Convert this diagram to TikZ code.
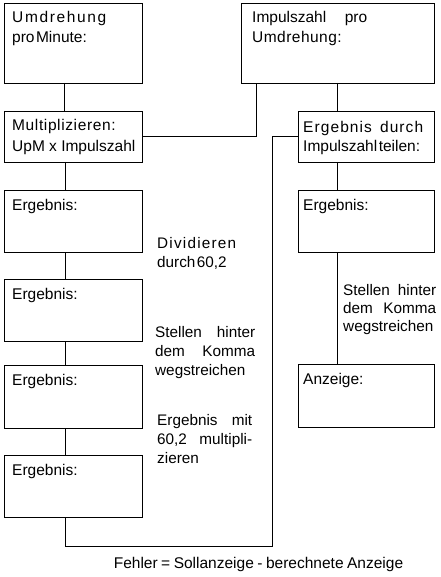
\documentclass[tikz,border=0pt]{standalone}
\usepackage{fontspec}
\setmainfont{Liberation Sans}
\usetikzlibrary{calc}
\begin{document}
\begin{tikzpicture}[x=1pt,y=-1pt,
  box/.style={draw, line width=0.8pt, rectangle, inner sep=0pt, outer sep=0pt, anchor=north west},
  conn/.style={line width=0.8pt},
  txt/.style={anchor=base west, inner sep=0pt, font=\fontsize{15.5}{18}\selectfont},
  note/.style={anchor=base west, inner sep=0pt, font=\fontsize{15.3}{18}\selectfont}]
\fill[white] (0,0) rectangle (440,577);
\useasboundingbox (0,0) rectangle (440,577);
% left column boxes
\node[box, minimum width=138pt, minimum height=80pt] (L1) at (4,3) {};
\node[box, minimum width=138pt, minimum height=51pt] (L2) at (4,111) {};
\node[box, minimum width=138pt, minimum height=62pt] (L3) at (4,190) {};
\node[box, minimum width=138pt, minimum height=62pt] (L4) at (4,279) {};
\node[box, minimum width=138pt, minimum height=63pt] (L5) at (4,365) {};
\node[box, minimum width=138pt, minimum height=62pt] (L6) at (4,455) {};
% right column boxes
\node[box, minimum width=193pt, minimum height=80pt] (R1) at (241,3) {};
\node[box, minimum width=136pt, minimum height=51pt] (R2) at (298,111) {};
\node[box, minimum width=136pt, minimum height=62pt] (R3) at (298,190) {};
\node[box, minimum width=136pt, minimum height=63pt] (R4) at (298,364) {};
% box texts
\node[txt] (tL1a) at ($(L1.north west)+(8,20)$) {\makebox[94pt]{U\hfill m\hfill d\hfill r\hfill e\hfill h\hfill u\hfill n\hfill g}};
\node[txt] (tL1b) at ($(L1.north west)+(8,40)$) {pro\hspace{1.5pt}Minute:};
\node[txt] (tL2a) at ($(L2.north west)+(8,20)$) {\addfontfeature{LetterSpace=4}Multiplizieren:};
\node[txt] (tL2b) at ($(L2.north west)+(8,41)$) {UpM x Impulszahl};
\node[txt] (tL3) at ($(L3.north west)+(8,20)$) {Ergebnis:};
\node[txt] (tL4) at ($(L4.north west)+(8,20)$) {Ergebnis:};
\node[txt] (tL5) at ($(L5.north west)+(8,20)$) {Ergebnis:};
\node[txt] (tL6) at ($(L6.north west)+(8,20)$) {Ergebnis:};
\node[txt] (tR1a) at ($(R1.north west)+(11,20)$) {\makebox[115pt][s]{Impulszahl pro}};
\node[txt] (tR1b) at ($(R1.north west)+(11,39.5)$) {\addfontfeature{LetterSpace=3}Umdrehung:};
\node[txt] (tR2a) at ($(R2.north west)+(5,22)$) {\makebox[120pt][s]{\addfontfeature{LetterSpace=7}Ergebnis durch}};
\node[txt] (tR2b) at ($(R2.north west)+(5,41)$) {Impulszahl\hspace{1.5pt}teilen:};
\node[txt] (tR3) at ($(R3.north west)+(5,20)$) {Ergebnis:};
\node[txt] (tR4) at ($(R4.north west)+(5,20)$) {Anzeige:};
% side notes
\node[note] (nA1) at (157,248) {\makebox[79pt]{D\hfill i\hfill v\hfill i\hfill d\hfill i\hfill e\hfill r\hfill e\hfill n}};
\node[note] (nA2) at (157,267) {durch\hspace{1.5pt}60,2};
\node[note] (nB1) at (155,337) {\makebox[100pt][s]{Stellen hinter}};
\node[note] (nB2) at (155,356) {\makebox[100pt][s]{dem Komma}};
\node[note] (nB3) at (155,375) {wegstreichen};
\node[note] (nC1) at (157,425) {\makebox[95pt][s]{Ergebnis mit}};
\node[note] (nC2) at (157,444) {\makebox[95pt][s]{60,2 multipli-}};
\node[note] (nC3) at (157,463) {zieren};
\node[note] (nD1) at (343,295) {\makebox[93pt][s]{Stellen hinter}};
\node[note] (nD2) at (343,313) {\makebox[93pt][s]{dem Komma}};
\node[note] (nD3) at (343,331) {wegstreichen};
\node[txt, anchor=base] (fehler) at (258.5,568) {Fehler\hspace{3.5pt}=\hspace{3.5pt}Sollanzeige\hspace{3.5pt}-\hspace{3.5pt}berechnete\hspace{3.5pt}Anzeige};
% connectors left column
\draw[conn] ($(L1.south west)+(60,0)$) -- ($(L2.north west)+(60,0)$);
\draw[conn] ($(L2.south west)+(61,0)$) -- ($(L3.north west)+(61,0)$);
\draw[conn] ($(L3.south west)+(61,0)$) -- ($(L4.north west)+(61,0)$);
\draw[conn] ($(L4.south west)+(61,0)$) -- ($(L5.north west)+(61,0)$);
\draw[conn] ($(L5.south west)+(61,0)$) -- ($(L6.north west)+(61,0)$);
% connectors right column
\draw[conn] (L2.east) -| ($(R1.south west)+(15,0)$);
\draw[conn] ($(R1.south west)+(96,0)$) -- ($(R2.north west)+(39,0)$);
\draw[conn] ($(R2.south west)+(39,0)$) -- ($(R3.north west)+(39,0)$);
\draw[conn] ($(R3.south west)+(39,0)$) -- ($(R4.north west)+(39,0)$);
% feedback loop
\coordinate (loopc) at (272,546);
\draw[conn] (R2.west) -| (loopc) -| ($(L6.south west)+(61,0)$);
\end{tikzpicture}
\end{document}
